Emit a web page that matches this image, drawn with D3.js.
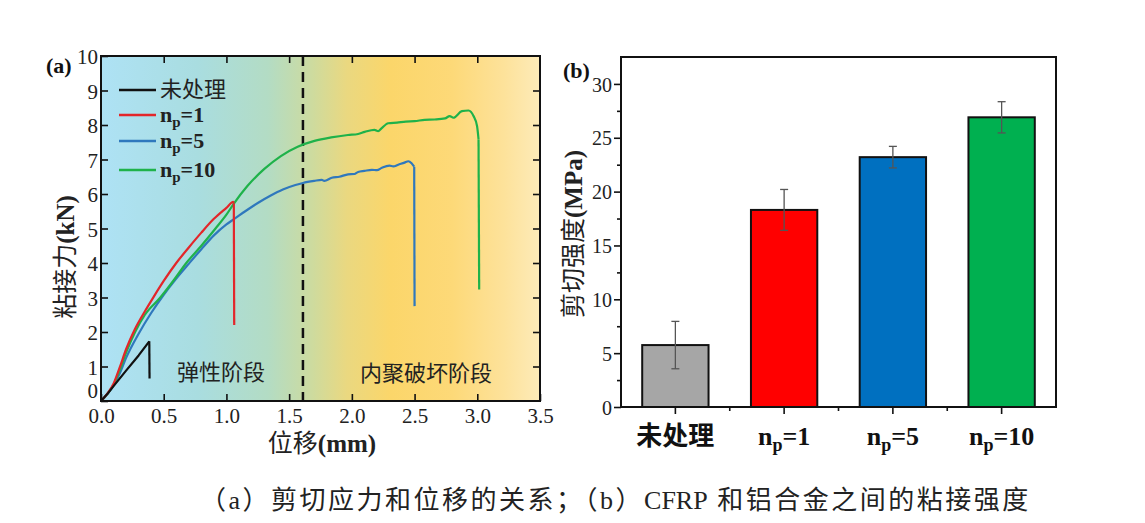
<!DOCTYPE html>
<html><head><meta charset="utf-8">
<script src="https://cdn.jsdelivr.net/npm/d3@7"></script>
<style>
html,body{margin:0;padding:0;background:#fff;}
svg{display:block;}
</style>
</head><body>
<svg id="chart" width="1145" height="523"></svg>
<script>
// ---------- Panel (a) data: displacement (mm), force (kN) ----------
const curveUntreated = [[0,0],[0.05,0.2],[0.1,0.43],[0.2,0.88],[0.3,1.32],[0.385,1.73],[0.387,0.65]];
const curveNp1 = [[0,0],[0.05,0.21],[0.1,0.5],[0.15,0.98],[0.2,1.5],[0.27,2.08],[0.35,2.6],[0.42,3.02],[0.5,3.48],[0.6,4.0],[0.7,4.45],[0.8,4.88],[0.9,5.28],[1.0,5.6],[1.055,5.77],[1.059,5.72],[1.062,2.2]];
const curveNp5 = [[0,0],[0.05,0.2],[0.1,0.45],[0.15,0.8],[0.2,1.25],[0.3,1.95],[0.4,2.55],[0.5,3.08],[0.6,3.55],[0.7,3.98],[0.8,4.4],[0.9,4.8],[1.0,5.12],[1.06,5.27],[1.15,5.5],[1.25,5.74],[1.35,5.95],[1.45,6.13],[1.55,6.26],[1.61,6.32],[1.70,6.38],[1.76,6.41],[1.78,6.38],[1.84,6.47],[1.90,6.50],[1.97,6.57],[2.02,6.58],[2.05,6.64],[2.10,6.67],[2.16,6.70],[2.20,6.69],[2.24,6.76],[2.30,6.82],[2.33,6.80],[2.37,6.85],[2.42,6.91],[2.45,6.95],[2.476,6.89],[2.497,6.79],[2.50,2.75]];
const curveNp10 = [[0,0],[0.05,0.2],[0.1,0.47],[0.15,0.9],[0.2,1.4],[0.272,2.0],[0.35,2.5],[0.473,3.0],[0.58,3.5],[0.68,4.0],[0.8,4.5],[0.913,5.0],[1.0,5.4],[1.055,5.7],[1.167,6.23],[1.30,6.72],[1.434,7.10],[1.568,7.37],[1.702,7.54],[1.835,7.64],[1.969,7.71],[2.05,7.74],[2.103,7.80],[2.18,7.86],[2.21,7.82],[2.236,7.9],[2.29,8.05],[2.36,8.07],[2.43,8.10],[2.50,8.11],[2.58,8.15],[2.66,8.16],[2.743,8.19],[2.78,8.26],[2.81,8.21],[2.877,8.40],[2.93,8.42],[2.97,8.26],[2.998,7.97],[3.01,7.59],[3.015,3.23]];
const seriesNames = ["未处理","n_p=1","n_p=5","n_p=10"];
const seriesColors = ["#111111","#e3262a","#2f78bd","#1fb24a"];
const xTicksA = [0,0.5,1.0,1.5,2.0,2.5,3.0,3.5];
const yTicksA = [0,1,2,3,4,5,6,7,8,9,10];
const stageBoundary = 1.61;

// ---------- Panel (b) data ----------
const categoriesB = ["未处理","n_p=1","n_p=5","n_p=10"];
const strengthB = [5.75,18.3,23.2,26.9];
const errorB = [2.2,1.9,1.0,1.45];
const barColorsB = ["#a6a6a6","#ff0000","#0070c0","#00b050"];
const yTicksB = [0,5,10,15,20,25,30];
const yMinorTicksB = [2.5,7.5,12.5,17.5,22.5,27.5];

const SERIF = "'Liberation Serif','Times New Roman',serif";
const CJK = "'Liberation Serif','Noto Sans CJK SC',serif";

const svg = d3.select("#chart");
svg.append("rect").attr("width",1145).attr("height",523).attr("fill","#fff");

// ================= Panel (a) =================
const A = {l:101, r:540, t:56, b:401};
const xa = d3.scaleLinear().domain([0,3.5]).range([A.l,A.r]);
const ya = d3.scaleLinear().domain([0,10]).range([A.b,A.t]);

const defs = svg.append("defs");
const grad = defs.append("linearGradient").attr("id","bgA").attr("x1","0%").attr("x2","100%").attr("y1","0%").attr("y2","0%");
[[0,"#aee2f5"],[0.22,"#a9dde0"],[0.38,"#b3dcc4"],[0.48,"#cddb9f"],[0.56,"#ead880"],[0.66,"#fbd66a"],[0.8,"#fdd978"],[0.92,"#fde29b"],[1,"#fdebb9"]]
  .forEach(([o,c])=>grad.append("stop").attr("offset",o).attr("stop-color",c));
svg.append("rect").attr("x",A.l).attr("y",A.t).attr("width",A.r-A.l).attr("height",A.b-A.t).attr("fill","url(#bgA)");

const gA = svg.append("g");
gA.append("line").attr("x1",xa(stageBoundary)).attr("x2",xa(stageBoundary)).attr("y1",A.t).attr("y2",A.b)
  .attr("stroke","#111").attr("stroke-width",2.5).attr("stroke-dasharray","10,6");

const lineSmooth = d3.line().x(d=>xa(d[0])).y(d=>ya(d[1])).curve(d3.curveMonotoneX);
const lineStraight = d3.line().x(d=>xa(d[0])).y(d=>ya(d[1]));
const curves = [curveNp5, curveNp10, curveNp1, curveUntreated];
const curveColors = [seriesColors[2], seriesColors[3], seriesColors[1], seriesColors[0]];
curves.forEach((c,i)=>{
  const gen = (c === curveUntreated) ? lineStraight : lineSmooth;
  gA.append("path").datum(c.slice(0,-1)).attr("d",gen).attr("fill","none")
    .attr("stroke",curveColors[i]).attr("stroke-width",2.2).attr("stroke-linejoin","round");
  gA.append("path").datum(c.slice(-2)).attr("d",lineStraight).attr("fill","none")
    .attr("stroke",curveColors[i]).attr("stroke-width",2.2).attr("stroke-linejoin","round");
});

function styleAxis(g, fs){
  g.select(".domain").remove();
  g.selectAll(".tick line").attr("stroke","#111").attr("stroke-width",1.6);
  g.selectAll(".tick text").attr("font-family",SERIF).attr("font-size",fs).attr("fill","#222");
}
const axB = svg.append("g").attr("transform",`translate(0,${A.b})`)
  .call(d3.axisBottom(xa).tickValues(xTicksA).tickFormat(d3.format(".1f")).tickSize(-7).tickPadding(7));
styleAxis(axB,21);
const axT = svg.append("g").attr("transform",`translate(0,${A.t})`)
  .call(d3.axisTop(xa).tickValues(xTicksA.slice(1,-1)).tickFormat("").tickSize(-7));
styleAxis(axT,21);
const axL = svg.append("g").attr("transform",`translate(${A.l},0)`)
  .call(d3.axisLeft(ya).tickValues(yTicksA).tickFormat(d3.format("d")).tickSize(-7).tickPadding(3));
styleAxis(axL,21);
axL.selectAll(".tick text").attr("dy",d=>d===0?"-0.15em":"0.36em");
const axR = svg.append("g").attr("transform",`translate(${A.r},0)`)
  .call(d3.axisRight(ya).tickValues(yTicksA.slice(1,-1)).tickFormat("").tickSize(-7));
styleAxis(axR,21);
svg.append("rect").attr("x",A.l).attr("y",A.t).attr("width",A.r-A.l).attr("height",A.b-A.t)
  .attr("fill","none").attr("stroke","#111").attr("stroke-width",2);

// legend
const legY = [90,115,141,170];
seriesNames.forEach((n,i)=>{
  svg.append("line").attr("x1",119).attr("x2",156).attr("y1",legY[i]).attr("y2",legY[i])
    .attr("stroke",seriesColors[i]).attr("stroke-width",2.6);
  const t = svg.append("text").attr("x",160).attr("y",legY[i]+7).attr("fill","#222");
  if(i===0){
    t.attr("font-family",CJK).attr("font-size",22).text(n);
  } else {
    const parts = n.split("_p");
    t.attr("font-family",SERIF).attr("font-size",22).attr("font-weight","bold");
    t.append("tspan").text(parts[0]);
    t.append("tspan").attr("dy",5).attr("font-size",15).text("p");
    t.append("tspan").attr("dy",-5).text(parts[1]);
  }
});

svg.append("text").attr("x",221).attr("y",380).attr("text-anchor","middle")
  .attr("font-family",CJK).attr("font-size",22).attr("fill","#222").text("弹性阶段");
svg.append("text").attr("x",426).attr("y",381).attr("text-anchor","middle")
  .attr("font-family",CJK).attr("font-size",22).attr("fill","#222").text("内聚破坏阶段");

svg.append("text").attr("x",46).attr("y",73).attr("font-family",SERIF).attr("font-size",22)
  .attr("font-weight","bold").attr("fill","#111").text("(a)");
const xtA = svg.append("text").attr("x",322).attr("y",452).attr("text-anchor","middle").attr("fill","#222").attr("font-size",25);
xtA.append("tspan").attr("font-family",CJK).text("位移");
xtA.append("tspan").attr("font-family",SERIF).attr("font-weight","bold").text("(mm)");
const ytA = svg.append("text").attr("transform","translate(74,257) rotate(-90)").attr("text-anchor","middle").attr("fill","#222").attr("font-size",25);
ytA.append("tspan").attr("font-family",CJK).text("粘接力");
ytA.append("tspan").attr("font-family",SERIF).attr("font-weight","bold").text("(kN)");

// ================= Panel (b) =================
const B = {l:621, r:1056, t:57, b:407};
const xb = d3.scaleBand().domain(categoriesB).range([B.l,B.r]).paddingInner(0.39).paddingOuter(0.195);
const yb = d3.scaleLinear().domain([0,32.5]).range([B.b,B.t]);

const gB = svg.append("g");
gB.selectAll("rect.bar").data(categoriesB).join("rect").attr("class","bar")
  .attr("x",d=>xb(d)).attr("width",xb.bandwidth())
  .attr("y",(d,i)=>yb(strengthB[i])).attr("height",(d,i)=>yb(0)-yb(strengthB[i]))
  .attr("fill",(d,i)=>barColorsB[i]).attr("stroke","#111").attr("stroke-width",2);
categoriesB.forEach((c,i)=>{
  const cx = xb(c)+xb.bandwidth()/2;
  const hi = yb(strengthB[i]+errorB[i]), lo = yb(strengthB[i]-errorB[i]);
  gB.append("line").attr("x1",cx).attr("x2",cx).attr("y1",hi).attr("y2",lo).attr("stroke","#555").attr("stroke-width",1.3);
  [hi,lo].forEach(yy=>gB.append("line").attr("x1",cx-4).attr("x2",cx+4).attr("y1",yy).attr("y2",yy).attr("stroke","#555").attr("stroke-width",1.3));
});

const bL = svg.append("g").attr("transform",`translate(${B.l},0)`)
  .call(d3.axisLeft(yb).tickValues(yTicksB).tickFormat(d3.format("d")).tickSize(7).tickPadding(2));
styleAxis(bL,20);
bL.selectAll(".tick text").attr("dy","0.36em");
const bLm = svg.append("g").attr("transform",`translate(${B.l},0)`)
  .call(d3.axisLeft(yb).tickValues(yMinorTicksB).tickFormat("").tickSize(4));
styleAxis(bLm,20);
const bB = svg.append("g").attr("transform",`translate(0,${B.b})`)
  .call(d3.axisBottom(xb).tickFormat("").tickSize(7));
styleAxis(bB,20);
const boundaries = categoriesB.slice(1).map(c=>xb(c)-xb.step()*xb.paddingInner()/2);
boundaries.forEach(bx=>svg.append("line").attr("x1",bx).attr("x2",bx).attr("y1",B.b).attr("y2",B.b+4).attr("stroke","#111").attr("stroke-width",1.6));
svg.append("rect").attr("x",B.l).attr("y",B.t).attr("width",B.r-B.l).attr("height",B.b-B.t)
  .attr("fill","none").attr("stroke","#111").attr("stroke-width",2);

categoriesB.forEach((c,i)=>{
  const cx = xb(c)+xb.bandwidth()/2;
  const t = svg.append("text").attr("x",cx).attr("y",445).attr("text-anchor","middle")
    .attr("fill","#111").attr("font-weight","bold");
  if(i===0){ t.attr("font-family",CJK).attr("font-size",26).text(c); }
  else {
    const parts = c.split("_p");
    t.attr("font-family",SERIF).attr("font-size",26);
    t.append("tspan").text(parts[0]);
    t.append("tspan").attr("dy",6).attr("font-size",18).text("p");
    t.append("tspan").attr("dy",-6).text(parts[1]);
  }
});

svg.append("text").attr("x",563).attr("y",78).attr("font-family",SERIF).attr("font-size",22)
  .attr("font-weight","bold").attr("fill","#111").text("(b)");
const ytB = svg.append("text").attr("transform","translate(582,234) rotate(-90)").attr("text-anchor","middle").attr("fill","#222").attr("font-size",25);
ytB.append("tspan").attr("font-family",CJK).text("剪切强度");
ytB.append("tspan").attr("font-family",SERIF).attr("font-weight","bold").text("(MPa)");

// caption
const cap = svg.append("text").attr("x",200).attr("y",509)
  .attr("font-family",CJK).attr("font-size",26).attr("fill","#222").attr("letter-spacing","2.5px");
cap.append("tspan").text("（a）剪切应力和位移的关系；（b）");
cap.append("tspan").attr("letter-spacing","0px").text("CFRP ");
cap.append("tspan").attr("dx",4).text("和铝合金之间的粘接强度");
</script>
</body></html>
